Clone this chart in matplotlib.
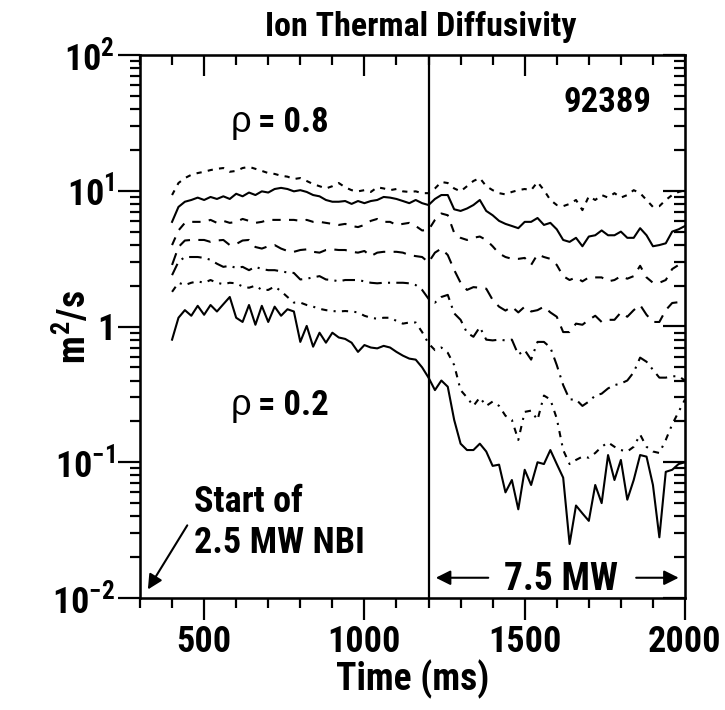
import matplotlib
matplotlib.use("Agg")
import matplotlib.pyplot as plt
import numpy as np
from matplotlib.ticker import LogLocator, MultipleLocator, NullFormatter

plt.rcParams['font.family'] = ['Roboto Condensed', 'Liberation Sans', 'DejaVu Sans']
plt.rcParams['font.weight'] = 'bold'
plt.rcParams['axes.labelweight'] = 'bold'
plt.rcParams['mathtext.fontset'] = 'custom'
plt.rcParams['mathtext.rm'] = 'Roboto Condensed:bold'
plt.rcParams['mathtext.bf'] = 'Roboto Condensed:bold'
plt.rcParams['mathtext.it'] = 'Roboto Condensed:bold'
plt.rcParams['mathtext.sf'] = 'Roboto Condensed:bold'

# Data: ion thermal diffusivity (m^2/s) vs time (ms), shot 92389
time_ms = np.arange(400, 2001, 20)

chi_08 = [9.3, 11.4, 12.4, 13.1, 13.5, 13.8, 14.2, 14.5, 14.7, 13.8,
          14.0, 14.7, 15.0, 14.5, 14.0, 13.5, 13.3, 12.9, 12.7, 12.2,
          12.4, 11.8, 11.2, 10.8, 10.4, 10.8, 11.4, 10.6, 10.1, 9.9,
          10.1, 9.8, 10.6, 10.4, 10.1, 10.3, 9.9, 9.8, 9.9, 9.6,
          9.6, 10.4, 11.6, 11.4, 10.4, 9.9, 10.8, 11.8, 12.4, 10.8,
          10.1, 9.6, 9.4, 9.8, 10.1, 10.3, 10.1, 11.6, 10.1, 8.55,
          7.85, 7.7, 8.0, 8.55, 7.2, 9.1, 8.55, 9.3, 8.9, 9.6,
          8.9, 9.3, 10.1, 9.6, 8.55, 7.6, 7.7, 8.55, 9.3, 9.8,
          10.1]
chi_07 = [5.9, 7.6, 8.3, 8.55, 8.9, 8.55, 9.0, 8.7, 9.1, 8.7,
          9.5, 9.1, 9.7, 9.3, 9.9, 9.7, 10.3, 10.5, 10.3, 9.9,
          10.1, 9.8, 9.3, 9.1, 8.55, 8.3, 8.3, 8.4, 8.0, 8.4,
          8.1, 8.4, 8.55, 9.0, 8.9, 8.7, 8.4, 8.1, 8.55, 8.1,
          7.85, 8.7, 9.3, 9.3, 7.3, 7.1, 7.4, 7.85, 8.55, 7.1,
          6.6, 6.0, 5.7, 5.5, 5.3, 5.9, 5.9, 6.3, 5.6, 5.8,
          5.2, 4.34, 4.2, 4.5, 3.9, 4.6, 4.7, 5.1, 4.7, 4.7,
          5.0, 4.5, 4.5, 5.3, 4.7, 3.9, 3.98, 4.1, 5.0, 5.2,
          5.5]
chi_06 = [3.98, 5.1, 5.8, 5.9, 5.9, 5.9, 6.1, 5.8, 6.0, 5.8,
          5.9, 6.2, 6.0, 5.8, 5.9, 6.1, 6.1, 6.1, 6.1, 6.1,
          6.0, 6.1, 5.9, 5.9, 5.8, 5.7, 5.6, 5.7, 5.5, 5.4,
          5.6, 6.0, 6.2, 5.9, 5.9, 5.6, 5.7, 5.8, 5.5, 5.1,
          5.14, 6.1, 6.8, 6.6, 4.9, 4.5, 4.34, 4.5, 4.6, 4.34,
          3.9, 3.45, 3.25, 3.15, 3.15, 3.2, 2.84, 3.4, 3.25, 3.15,
          2.84, 2.35, 2.2, 2.3, 2.15, 2.3, 2.3, 2.3, 2.15, 2.2,
          2.35, 2.25, 2.35, 2.8, 2.3, 2.1, 2.1, 2.2, 2.65, 2.84,
          2.95]
chi_05 = [2.84, 3.85, 4.3, 4.34, 4.34, 4.34, 4.2, 4.3, 4.34, 3.98,
          4.05, 4.3, 4.34, 3.85, 3.75, 3.9, 3.98, 3.75, 3.6, 3.55,
          3.66, 3.7, 3.55, 3.5, 3.66, 3.7, 3.66, 3.66, 3.55, 3.5,
          3.6, 3.3, 3.5, 3.55, 3.55, 3.55, 3.5, 3.36, 3.3, 3.25,
          2.97, 3.5, 3.75, 3.36, 2.61, 2.1, 1.86, 1.95, 1.93, 1.9,
          1.57, 1.4, 1.31, 1.4, 1.27, 1.4, 1.29, 1.32, 1.4, 1.27,
          1.18, 0.91, 0.91, 1.05, 1.03, 1.12, 1.2, 1.08, 1.12, 1.12,
          1.27, 1.18, 1.32, 1.44, 1.22, 1.08, 1.08, 1.32, 1.49, 1.51,
          1.57]
chi_04 = [2.39, 3.0, 3.25, 3.25, 3.25, 3.2, 3.1, 2.9, 2.75, 2.8,
          2.7, 2.75, 2.6, 2.75, 2.65, 2.6, 2.6, 2.55, 2.5, 2.48,
          2.22, 2.25, 2.3, 2.35, 2.22, 2.2, 2.15, 2.2, 2.2, 2.2,
          2.15, 2.1, 2.08, 2.1, 2.1, 2.1, 2.1, 2.08, 2.02, 1.86,
          1.6, 1.5, 1.65, 1.71, 1.25, 1.12, 0.9, 0.84, 0.99, 0.8,
          0.79, 0.8, 0.79, 0.8, 0.62, 0.67, 0.57, 0.77, 0.77, 0.70,
          0.52, 0.37, 0.29, 0.29, 0.26, 0.28, 0.31, 0.32, 0.35, 0.37,
          0.38, 0.40, 0.46, 0.59, 0.55, 0.48, 0.42, 0.42, 0.43, 0.43,
          0.40]
chi_03 = [1.8, 2.1, 2.02, 2.1, 2.15, 2.1, 2.2, 2.1, 2.05, 2.1,
          2.08, 1.97, 1.93, 2.0, 1.86, 1.86, 1.97, 1.82, 1.65, 1.5,
          1.5, 1.44, 1.4, 1.35, 1.32, 1.3, 1.29, 1.3, 1.29, 1.27,
          1.2, 1.16, 1.14, 1.16, 1.16, 1.1, 1.05, 1.07, 1.07, 0.91,
          0.75, 0.67, 0.70, 0.64, 0.52, 0.34, 0.30, 0.26, 0.30, 0.26,
          0.28, 0.26, 0.22, 0.205, 0.146, 0.235, 0.24, 0.205, 0.31, 0.29,
          0.21, 0.123, 0.097, 0.104, 0.11, 0.108, 0.117, 0.13, 0.14, 0.13,
          0.123, 0.12, 0.13, 0.16, 0.13, 0.12, 0.117, 0.146, 0.19, 0.235,
          0.29]
chi_02 = [0.80, 1.16, 1.32, 1.2, 1.42, 1.22, 1.44, 1.29, 1.46, 1.65,
          1.16, 1.08, 1.44, 1.03, 1.42, 1.08, 1.40, 1.20, 1.34, 1.29,
          0.77, 1.01, 0.71, 0.90, 0.76, 0.90, 0.83, 0.81, 0.76, 0.65,
          0.73, 0.70, 0.69, 0.72, 0.70, 0.65, 0.61, 0.58, 0.57, 0.50,
          0.42, 0.34, 0.40, 0.36, 0.205, 0.137, 0.123, 0.123, 0.137, 0.12,
          0.094, 0.096, 0.06, 0.074, 0.045, 0.088, 0.068, 0.10, 0.097, 0.123,
          0.097, 0.077, 0.025, 0.048, 0.042, 0.037, 0.068, 0.050, 0.113, 0.074,
          0.104, 0.053, 0.074, 0.113, 0.11, 0.068, 0.028, 0.085, 0.088, 0.097,
          0.10]

series = [chi_08, chi_07, chi_06, chi_05, chi_04, chi_03, chi_02]
styles = [(0, (2.5, 3)), '-', (0, (4, 4)), (0, (6, 4)),
          (0, (6, 3, 1, 3)), (0, (3, 3, 1, 3)), '-']

ytick_vals = [0.01, 0.1, 1, 10, 100]
ytick_text = [r'$10^{-2}$', r'$10^{-1}$', '1', r'$10^{1}$', r'$10^{2}$']

fig = plt.figure(figsize=(7.25, 7.1), dpi=100)
ax = fig.add_axes([140 / 725, 1 - 598 / 710, 545 / 725, 543 / 710])

for vals, ls in zip(series, styles):
    ax.plot(time_ms, vals, color='black', lw=1.5, linestyle=ls)

ax.axvline(1200, color='black', lw=1.6)

ax.set_yscale('log')
ax.set_xlim(300, 2000)
ax.set_ylim(0.01, 100)
ax.set_xticks([500, 1000, 1500, 2000])
ax.xaxis.set_minor_locator(MultipleLocator(100))
ax.set_yticks(ytick_vals)
ax.set_yticklabels(ytick_text)
ax.yaxis.set_minor_locator(LogLocator(base=10, subs=range(2, 10)))
ax.yaxis.set_minor_formatter(NullFormatter())

ax.tick_params(which='both', top=False, right=False, direction='out', width=1.6)
ax.tick_params(which='major', length=16, labelsize=26)
ax.tick_params(axis='x', which='major', pad=3)
ax.tick_params(axis='y', which='major', pad=2)
ax.tick_params(which='minor', length=7)
for s in ax.spines.values():
    s.set_linewidth(1.8)

# top and right ticks point inwards
ax_top = ax.twiny()
ax_top.set_xlim(300, 2000)
ax_top.set_xticks([500, 1000, 1500, 2000])
ax_top.xaxis.set_minor_locator(MultipleLocator(100))
ax_top.tick_params(which='both', direction='in', width=1.6, labeltop=False)
ax_top.tick_params(which='major', length=15)
ax_top.tick_params(which='minor', length=7)

ax_right = ax.twinx()
ax_right.set_yscale('log')
ax_right.set_ylim(0.01, 100)
ax_right.set_yticks(ytick_vals)
ax_right.yaxis.set_minor_locator(LogLocator(base=10, subs=range(2, 10)))
ax_right.yaxis.set_minor_formatter(NullFormatter())
ax_right.tick_params(which='both', direction='in', width=1.6, labelright=False)
ax_right.tick_params(which='major', length=16)
ax_right.tick_params(which='minor', length=8)

ax.set_xlabel('Time (ms)', fontsize=27)
ax.xaxis.set_label_coords(0.5, -0.113)
ax.set_ylabel(r'$m^{2}/s$', fontsize=27)
ax.yaxis.set_label_coords(-0.085, 0.5)
fig.text(0.581, 0.962, 'Ion Thermal Diffusivity', ha='center', va='center', fontsize=24.5)

# annotations
ax.text(583, 27.1, 'ρ', fontsize=26, fontweight='normal', family='Liberation Sans', va='baseline')
ax.text(667, 27.1, '= 0.8', fontsize=25, va='baseline')
ax.text(583, 0.223, 'ρ', fontsize=26, fontweight='normal', family='Liberation Sans', va='baseline')
ax.text(667, 0.223, '= 0.2', fontsize=25, va='baseline')
ax.text(1620, 38.0, '92389', fontsize=25, va='baseline')
ax.text(467, 0.0432, 'Start of', fontsize=26, va='baseline')
ax.text(467, 0.02145, '2.5 MW NBI', fontsize=26, va='baseline')
ax.annotate('', xy=(320, 0.0111), xytext=(452, 0.0357),
            arrowprops=dict(arrowstyle='-|>', color='black', lw=1.5, mutation_scale=22))
ax.text(1614, 0.01146, '7.5 MW', fontsize=27, ha='center', va='baseline')
ax.annotate('', xy=(1214, 0.0141), xytext=(1395, 0.0141),
            arrowprops=dict(arrowstyle='-|>', color='black', lw=1.5, mutation_scale=22))
ax.annotate('', xy=(1989, 0.0141), xytext=(1839, 0.0141),
            arrowprops=dict(arrowstyle='-|>', color='black', lw=1.5, mutation_scale=22))

fig.savefig('out.png', dpi=100)
